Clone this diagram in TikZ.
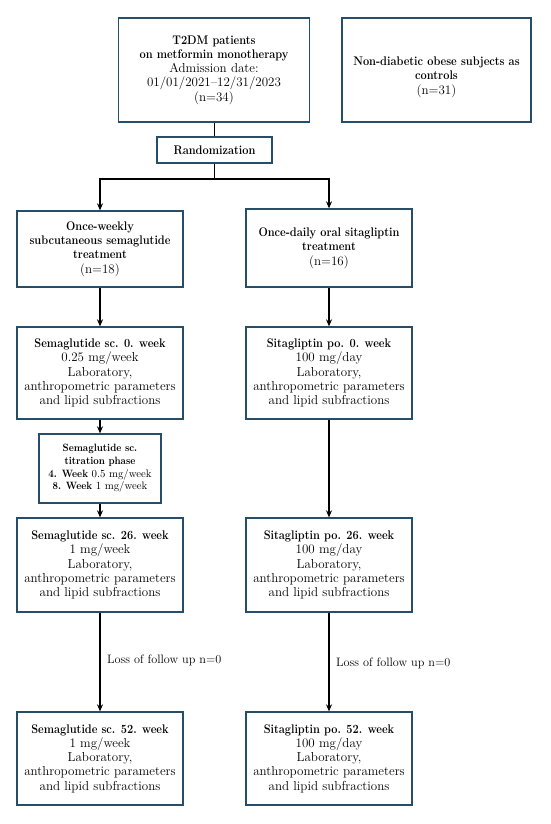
\documentclass[tikz,border=0pt]{standalone}
\usepackage{graphicx}
\usetikzlibrary{arrows.meta}
\definecolor{boxblue}{RGB}{38,78,104}
\newcommand{\B}[1]{\scalebox{0.88}[1]{\fontsize{12.5}{14.3}\selectfont\bfseries #1}}
\newcommand{\Bs}[1]{\scalebox{0.9}[1]{\fontsize{10.6}{12.7}\selectfont\bfseries #1}}
\begin{document}
\begin{tikzpicture}[x=1pt,y=-1pt,
  box/.style={draw=boxblue, line width=1.3pt, align=center, inner sep=2pt,
    font=\fontsize{13}{14.3}\selectfont},
  conn/.style={line width=1.2pt, black},
  arr/.style={conn, -{Stealth[length=7pt,width=6pt]}},
  lbl/.style={font=\fontsize{12.2}{14.3}\selectfont, anchor=west, inner sep=0pt}]
\useasboundingbox (0,0) rectangle (550,824);
\fill[white] (0,0) rectangle (550,824);

\node[box, minimum width=191pt, minimum height=104pt] (t2dm) at (214,70)
  {\B{T2DM patients}\\\B{on metformin monotherapy}\\Admission date:\\01/01/2021--12/31/2023\\(n=34)};
\node[box, minimum width=189pt, minimum height=104pt] (ctrl) at (436.5,70) {};
\node[align=center, font=\fontsize{13}{14.3}\selectfont] (ctrltxt) at (436.5,77)
  {\B{Non-diabetic obese subjects as}\\\B{controls}\\(n=31)};
\node[box, minimum width=115pt, minimum height=26pt] (rand) at (214.5,150) {\B{Randomization}};

\node[box, minimum width=166pt, minimum height=76pt] (semat) at (100,249)
  {\B{Once-weekly}\\\B{subcutaneous semaglutide}\\\B{treatment}\\(n=18)};
\node[box, minimum width=166pt, minimum height=78pt] (sitat) at (329,248)
  {\B{Once-daily oral sitagliptin}\\\B{treatment}\\(n=16)};

\node[box, minimum width=166pt, minimum height=92pt] (sema0) at (100,373)
  {\B{Semaglutide sc. 0. week}\\0.25 mg/week\\Laboratory,\\anthropometric parameters\\and lipid subfractions};
\node[box, minimum width=166pt, minimum height=92pt] (sita0) at (329,373)
  {\B{Sitagliptin po. 0. week}\\100 mg/day\\Laboratory,\\anthropometric parameters\\and lipid subfractions};

\node[box, minimum width=122pt, minimum height=69pt, font=\fontsize{10.8}{12.7}\selectfont] (titr) at (100,468.5)
  {\Bs{Semaglutide sc.}\\\Bs{titration phase}\\\Bs{4. Week} 0.5 mg/week\\\Bs{8. Week} 1 mg/week};

\node[box, minimum width=166pt, minimum height=94pt] (sema26) at (100,565)
  {\B{Semaglutide sc. 26. week}\\1 mg/week\\Laboratory,\\anthropometric parameters\\and lipid subfractions};
\node[box, minimum width=166pt, minimum height=94pt] (sita26) at (329,565)
  {\B{Sitagliptin po. 26. week}\\100 mg/day\\Laboratory,\\anthropometric parameters\\and lipid subfractions};

\node[box, minimum width=166pt, minimum height=93pt] (sema52) at (100,758.5)
  {\B{Semaglutide sc. 52. week}\\1 mg/week\\Laboratory,\\anthropometric parameters\\and lipid subfractions};
\node[box, minimum width=166pt, minimum height=93pt] (sita52) at (329,758.5)
  {\B{Sitagliptin po. 52. week}\\100 mg/day\\Laboratory,\\anthropometric parameters\\and lipid subfractions};

\coordinate (split) at (214.5,179);
\draw[conn] (t2dm.south -| rand.north) -- (rand.north);
\draw[conn] (rand.south) -- (split);
\draw[arr] (split) -| (semat.north);
\draw[arr] (split) -| (sitat.north);
\draw[arr] (semat) -- (sema0);
\draw[arr] (sitat) -- (sita0);
\draw[arr] (sema0) -- (titr);
\draw[arr] (titr) -- (sema26);
\draw[arr] (sita0) -- (sita26);
\draw[arr] (sema26) -- (sema52);
\draw[arr] (sita26) -- (sita52);

\node[lbl] (loss1) at (107,660) {Loss of follow up n=0};
\node[lbl] (loss2) at (336,663) {Loss of follow up n=0};
\end{tikzpicture}
\end{document}
